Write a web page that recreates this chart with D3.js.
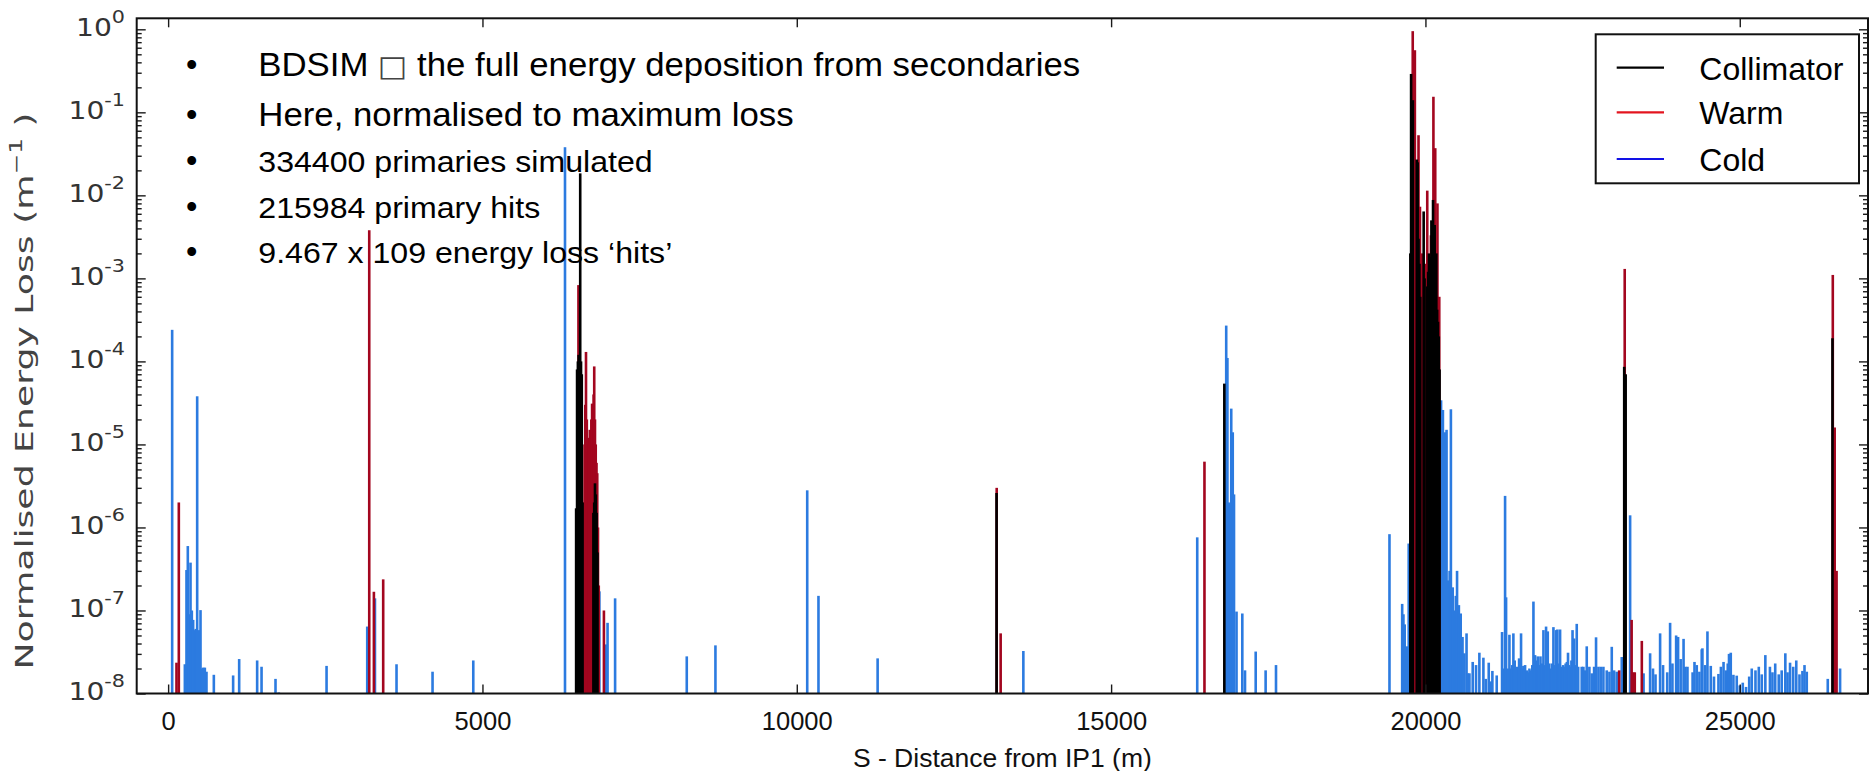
<!DOCTYPE html>
<html>
<head>
<meta charset="utf-8">
<script src="https://cdn.jsdelivr.net/npm/d3@7"></script>
<style>
  body { margin: 0; background: #fff; }
  svg { display: block; }
</style>
</head>
<body>
<svg id="chart" width="1870" height="771"></svg>
<script>
// ---- Data: [S position along the ring (m), normalised energy loss (m^-1)] ----
const collimatorLoss = [
  [6490,1.7e-6],[6505,8e-5],[6518,1e-4],[6530,1.2e-4],[6543,9e-5],[6555,1.84e-2],[6568,1e-4],[6580,7e-5],[6592,2e-6],
  [6765,1.5e-6],[6778,2e-6],[6790,3.4e-6],[6803,2.5e-6],[6816,1.5e-6],[6830,5e-7],
  [13178,2.6e-6],[16801,5.4e-5],
  [19760,2e-3],[19772,0.29],[19786,0.05],[19800,0.14],[19862,0.027],[19876,0.025],[19890,3e-3],[19904,1.5e-3],[19918,6e-4],
  [19972,6.4e-3],[19986,1e-3],[20030,8e-4],[20043,1.2e-3],[20056,2e-3],[20069,1e-3],[20082,1.8e-3],[20095,5e-3],
  [20108,2e-3],[20121,8.8e-3],[20134,3e-3],[20147,4.4e-3],[20160,1.5e-3],[20173,2e-3],[20186,4.2e-4],[20199,3e-4],
  [20212,2e-4],[20225,8e-5],
  [23162,8.6e-5],[23185,7e-5],
  [26475,1.9e-4]
];

const warmLoss = [
  [133,2.35e-8],[170,2e-6],[3199,3.8e-3],[3273,1.68e-7],[3421,2.37e-7],
  [6500,5e-7],[6527,8.3e-4],[6600,5.6e-7],[6612,2e-6],[6624,1e-5],[6636,3e-5],[6647,1.3e-4],[6660,2e-5],[6672,8e-6],
  [6684,1e-5],[6696,1.2e-5],[6708,1.5e-5],[6720,1.2e-5],[6732,2e-5],[6744,3.1e-5],[6756,1e-5],[6768,4e-5],[6778,8.7e-5],
  [6790,2e-5],[6802,1e-5],[6814,6e-6],[6826,4.5e-6],[6838,1e-6],[6850,2e-7],[6932,1e-7],
  [13180,3e-6],[13243,5.3e-8],[16485,6.2e-6],
  [19798,0.95],[19832,0.56],[19890,0.053],[19913,7.3e-3],[19945,2e-3],[20008,1.5e-3],[20029,0.0114],[20087,3.3e-3],
  [20127,0.154],[20156,0.037],[20191,8e-3],[20220,6e-4],
  [23082,1.9e-8],[23170,1.3e-3],[23280,7.7e-8],[23305,1.8e-8],[23330,1.8e-8],[23442,4.3e-8],
  [26480,1.1e-3],[26510,1.6e-5],[26540,3e-7]
];

const coldLoss = [
  [64,2.4e-4],[266,2.25e-8],[292,3.07e-7],[313,5.97e-7],[334,9e-8],[356,3.77e-7],[377,1e-7],[398,7.7e-8],[424,5.8e-8],
  [440,6e-8],[462,3.8e-5],[494,5.8e-8],[515,1.01e-7],[536,2e-8],[557,2.05e-8],[584,2.05e-8],[610,1.83e-8],[727,1.68e-8],
  [1034,1.65e-8],[1130,2.6e-8],[1416,2.5e-8],[1486,2.1e-8],[1708,1.5e-8],[1760,1.03e-8],[2520,2.15e-8],[3167,6.4e-8],
  [3290,1.4e-7],[3633,2.25e-8],[4206,1.83e-8],[4854,2.5e-8],
  [6313,3.8e-2],[6860,1.7e-7],[6960,3.9e-8],[6990,7.1e-8],[7110,1.4e-7],[8250,2.8e-8],[8706,3.8e-8],[10166,2.8e-6],
  [10345,1.5e-7],[11286,2.65e-8],[13604,3.25e-8],
  [16370,7.6e-7],[16831,2.7e-4],[16850,1.1e-4],[16870,2e-6],[16892,1.9e-6],[16911,2.7e-5],[16935,1.4e-5],[16955,2.5e-6],
  [16995,9.7e-8],[17087,9.2e-8],[17130,1.9e-8],[17300,3.2e-8],[17458,1.9e-8],[17623,2.2e-8],
  [19428,8.3e-7],[19630,1.2e-7],[19650,9e-8],[19670,6.8e-8],[19705,3.7e-8],[19734,6.4e-7],
  [20249,3.4e-5],[20278,2.6e-5],[20307,1.4e-5],[20336,1.5e-5],[20364,2.3e-7],[20385,3e-7],[20405,2.65e-5],[20434,1.9e-7],
  [20463,1e-7],[20483,1.5e-7],[20503,3e-7],[20532,1.16e-7],[20561,9.2e-8],[20590,4.8e-8],[20619,3.05e-8],[20654,5.3e-8],
  [20677,1.75e-8],[20700,1.75e-8],[20752,2.4e-8],[20805,2.2e-8],[20858,3.1e-8],[20922,2.7e-8],[20960,1.5e-8],[21007,2.35e-8],
  [21040,1.4e-8],[21065,1.87e-8],[21134,1.65e-8],[21219,5.5e-8],[21240,2e-8],[21267,2.4e-6],[21283,1.44e-7],[21310,2e-8],
  [21336,5.1e-8],[21360,2e-8],[21380,2.2e-8],[21399,5.3e-8],[21420,2.5e-8],[21452,2.1e-8],[21490,2.65e-8],[21521,5.3e-8],
  [21540,2e-8],[21558,2.15e-8],[21585,2.2e-8],[21612,1.9e-8],[21635,1.8e-8],[21654,2e-8],[21680,1.9e-8],[21700,2.2e-8],
  [21718,1.28e-7],[21744,2.9e-8],[21765,2.5e-8],[21787,2.8e-8],[21810,2.2e-8],[21830,2.8e-8],[21850,2.3e-8],[21877,5.8e-8],
  [21900,2.2e-8],[21919,6.4e-8],[21946,5.6e-8],[21970,2.3e-8],[21993,2e-8],[22015,2.3e-8],[22036,6.3e-8],[22058,2.2e-8],
  [22078,5.8e-8],[22099,5.9e-8],[22120,2.3e-8],[22142,5.9e-8],[22168,2.1e-8],[22190,2.2e-8],[22210,2.1e-8],[22230,2.3e-8],
  [22250,2.4e-8],[22268,3.1e-8],[22285,2.2e-8],[22305,2.1e-8],[22322,2.5e-8],[22340,5.8e-8],[22365,4.6e-8],[22385,2.2e-8],
  [22407,6.9e-8],[22430,2.1e-8],[22486,2.1e-8],[22513,2.1e-8],[22540,1.9e-8],[22566,3.7e-8],[22608,2.1e-8],[22646,1.75e-8],
  [22683,2.1e-8],[22714,4.75e-8],[22752,2.1e-8],[22789,2.1e-8],[22831,2.1e-8],[22884,1.9e-8],[22927,1.83e-8],[22964,3.65e-8],
  [23001,1.9e-8],[23043,1.83e-8],[23123,2.75e-8],[23149,1.75e-8],
  [23256,1.4e-6],[23470,1.75e-8],[23574,3.05e-8],[23620,2e-8],[23660,1.7e-8],[23733,5.3e-8],[23780,2.2e-8],[23846,1.8e-8],
  [23892,7.1e-8],[23929,2.3e-8],[23988,5e-8],[24019,4.8e-8],[24060,2.6e-8],[24106,4.55e-8],[24135,2.1e-8],[24168,2.1e-8],
  [24250,1.8e-8],[24280,2.4e-8],[24316,2.2e-8],[24358,1.83e-8],[24395,3.4e-8],[24406,3.5e-8],[24449,2.2e-8],[24486,5.6e-8],
  [24539,2.15e-8],[24590,1.6e-8],[24661,1.72e-8],[24700,2.1e-8],[24742,2.4e-8],[24780,1.9e-8],[24809,2.3e-8],[24829,3e-8],
  [24857,3.1e-8],[24899,1.68e-8],[24952,1.64e-8],[25000,1.25e-8],[25048,1.35e-8],[25100,1.2e-8],[25150,1.6e-8],[25191,2e-8],
  [25250,1.9e-8],[25303,2.1e-8],[25350,1.7e-8],[25407,2.9e-8],[25480,2.1e-8],[25520,1.8e-8],[25564,2.3e-8],[25620,1.7e-8],
  [25667,1.9e-8],[25725,3.05e-8],[25760,1.8e-8],[25800,2.35e-8],[25850,2.1e-8],[25899,2.5e-8],[25950,1.7e-8],[25997,1.87e-8],
  [26030,2.2e-8],[26066,1.83e-8],[26400,1.5e-8],[26596,2e-8]
];

const seriesNames = ["Collimator", "Warm", "Cold"];
const xTickValues = [0, 5000, 10000, 15000, 20000, 25000];
const yTickExponents = [0, -1, -2, -3, -4, -5, -6, -7, -8];
const noteLines = [
  ["BDSIM ", "\u25A1", " the full energy deposition from secondaries"],
  ["Here, normalised to maximum loss"],
  ["334400 primaries simulated"],
  ["215984 primary hits"],
  ["9.467 x 109 energy loss \u2018hits\u2019"]
];

// ---- Layout ----
const plot = { left: 136.7, right: 1868, top: 18.3, bottom: 693.5 };
const colors = { Collimator: "#000000", Warm: "#a3061f", Cold: "#2c7be0" };
const legendColors = { Collimator: "#000000", Warm: "#e3141f", Cold: "#1212e6" };
const fontSans = "'Liberation Sans', Arial, Helvetica, sans-serif";
const fontMpl = "'DejaVu Sans', sans-serif";

const svg = d3.select("#chart");

const x = d3.scaleLinear().domain([-500, 27040]).range([plot.left, plot.right]);
const y = d3.scaleLog().domain([1e-8, 1.357]).range([plot.bottom, plot.top]);

svg.append("defs").append("clipPath").attr("id", "plotClip")
  .append("rect")
  .attr("x", plot.left).attr("y", plot.top)
  .attr("width", plot.right - plot.left).attr("height", plot.bottom - plot.top);

// ---- Bars: cold first, then warm, collimator on top ----
const barW = 2.6;
const bars = svg.append("g").attr("clip-path", "url(#plotClip)");
[["Cold", coldLoss], ["Warm", warmLoss], ["Collimator", collimatorLoss]].forEach(([name, data]) => {
  bars.append("g")
    .selectAll("rect")
    .data(data)
    .join("rect")
    .attr("x", d => x(d[0]) - barW / 2)
    .attr("y", d => y(d[1]))
    .attr("width", barW)
    .attr("height", d => y(1e-8) - y(d[1]))
    .attr("fill", colors[name]);
});

// ---- Ticks (pointing inward on all four sides) ----
const majorY = yTickExponents.map(e => Math.pow(10, e));
const minorY = [];
for (let e = -8; e <= 0; e++) {
  for (let m = 2; m <= 9; m++) {
    const v = m * Math.pow(10, e);
    if (v <= y.domain()[1]) minorY.push(v);
  }
}

const tickStyle = g => {
  g.select(".domain").remove();
  g.selectAll(".tick line").attr("stroke", "#1a1a1a").attr("stroke-width", 1.4);
};

svg.append("g")
  .attr("transform", `translate(0,${plot.bottom})`)
  .call(d3.axisBottom(x).tickValues(xTickValues).tickSize(-9).tickPadding(18.6).tickFormat(d3.format("d")))
  .call(tickStyle)
  .call(g => g.selectAll("text")
    .attr("font-family", fontSans).attr("font-size", 25.5).attr("fill", "#111"));

svg.append("g")
  .attr("transform", `translate(0,${plot.top})`)
  .call(d3.axisTop(x).tickValues(xTickValues).tickSize(-9).tickFormat(""))
  .call(tickStyle);

[[d3.axisLeft, plot.left], [d3.axisRight, plot.right]].forEach(([axisFn, xPos]) => {
  svg.append("g")
    .attr("transform", `translate(${xPos},0)`)
    .call(axisFn(y).tickValues(majorY).tickSize(-9).tickFormat(""))
    .call(tickStyle);
  svg.append("g")
    .attr("transform", `translate(${xPos},0)`)
    .call(axisFn(y).tickValues(minorY).tickSize(-5).tickFormat(""))
    .call(tickStyle);
});

// ---- Frame ----
svg.append("rect")
  .attr("x", plot.left).attr("y", plot.top)
  .attr("width", plot.right - plot.left).attr("height", plot.bottom - plot.top)
  .attr("fill", "none").attr("stroke", "#111").attr("stroke-width", 2);

// ---- Y tick labels: 10^e ----
const yLab = svg.append("g")
  .attr("font-family", fontMpl)
  .attr("fill", "#333");
yTickExponents.forEach(e => {
  const t = yLab.append("text")
    .attr("transform", `translate(125,${y(Math.pow(10, e)) + 6.7}) scale(1.15,1)`)
    .attr("text-anchor", "end")
    .attr("font-size", 24.5);
  t.append("tspan").text("10");
  t.append("tspan").attr("font-size", 18).attr("dy", -13).text(e === 0 ? "0" : "-" + Math.abs(e));
});

// ---- Axis titles ----
svg.append("text")
  .attr("x", (plot.left + plot.right) / 2)
  .attr("y", 766.5)
  .attr("text-anchor", "middle")
  .attr("font-family", fontSans)
  .attr("font-size", 26.5)
  .attr("fill", "#111")
  .text("S - Distance from IP1 (m)");

const yTitle = svg.append("text")
  .attr("transform", `translate(33,391) rotate(-90)`)
  .attr("text-anchor", "middle")
  .attr("font-family", fontMpl)
  .attr("font-size", 25)
  .attr("fill", "#444")
  .attr("textLength", 557)
  .attr("lengthAdjust", "spacingAndGlyphs");
yTitle.append("tspan").text("Normalised Energy Loss (m");
yTitle.append("tspan").attr("font-size", 17).attr("dy", -11).text("\u22121");
yTitle.append("tspan").attr("dy", 11).text(" )");

// ---- Bullet notes (first two lines set a little larger) ----
const notes = svg.append("g")
  .attr("font-family", fontSans)
  .attr("fill", "#000");
let baseline = 76;
noteLines.forEach((parts, i) => {
  const size = i < 2 ? 32.5 : 30;
  if (i > 0) baseline += 1.53 * size;
  notes.append("text").attr("x", 191.7).attr("y", baseline)
    .attr("text-anchor", "middle").attr("font-size", 32.5).text("\u2022");
  const t = notes.append("text").attr("x", 258.3).attr("y", baseline).attr("font-size", size);
  parts.forEach(p => {
    const sp = t.append("tspan").text(p);
    if (p === "\u25A1") sp.attr("font-family", fontMpl).attr("font-size", 29).attr("fill", "#444");
  });
  const natural = t.node().getComputedTextLength();
  t.attr("textLength", natural * 1.07).attr("lengthAdjust", "spacingAndGlyphs");
});

// ---- Legend ----
const legend = svg.append("g");
legend.append("rect")
  .attr("x", 1595.7).attr("y", 34.3)
  .attr("width", 263.3).attr("height", 149)
  .attr("fill", "#fff").attr("stroke", "#111").attr("stroke-width", 2);
const legendRowY = [67.7, 112.3, 159];
seriesNames.forEach((name, i) => {
  legend.append("line")
    .attr("x1", 1616.7).attr("x2", 1664)
    .attr("y1", legendRowY[i]).attr("y2", legendRowY[i])
    .attr("stroke", legendColors[name]).attr("stroke-width", 2.2);
  legend.append("text")
    .attr("x", 1699.3).attr("y", legendRowY[i] + 11.8)
    .attr("font-family", fontSans).attr("font-size", 32)
    .attr("fill", "#000")
    .text(name);
});
</script>
</body>
</html>
